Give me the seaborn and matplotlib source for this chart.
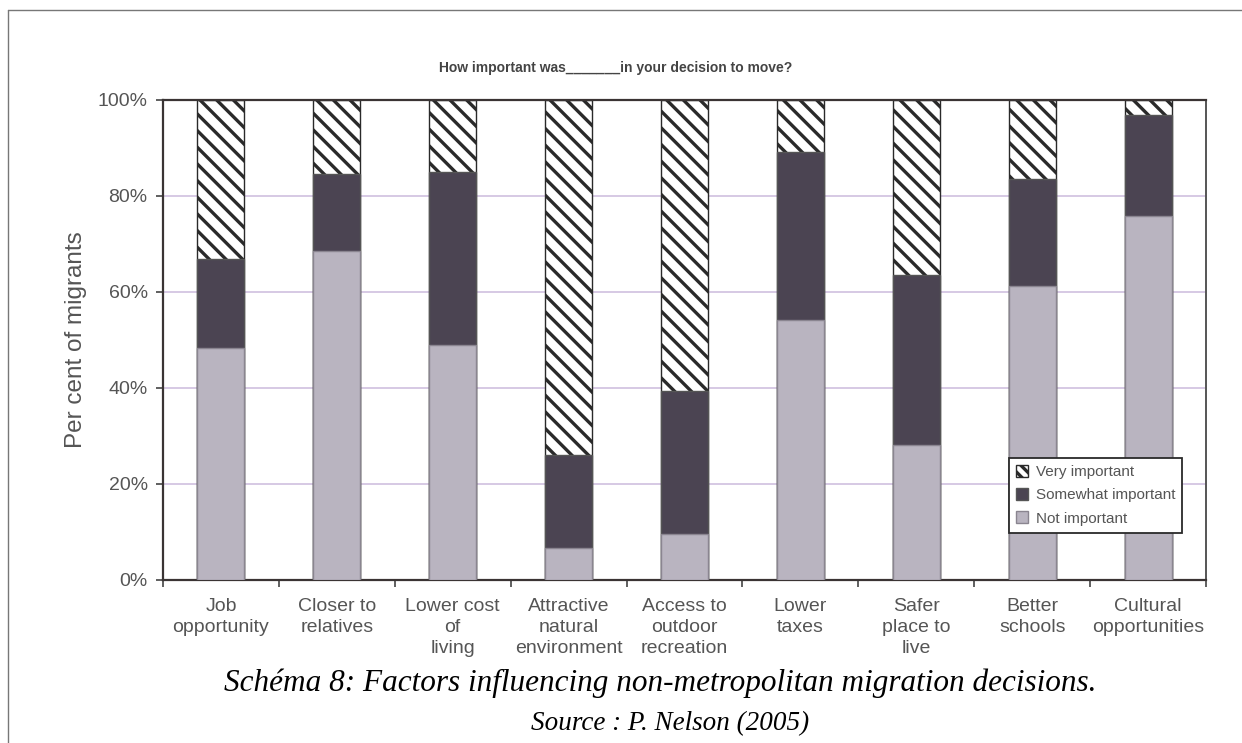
#!/usr/bin/env python3
# Stacked bar chart: factors in non-metropolitan migration decisions
import matplotlib
matplotlib.use("Agg")
import matplotlib.pyplot as plt
import matplotlib.lines as mlines
import matplotlib.patches as mpatches
import seaborn as sns
import pandas as pd
import numpy as np

# Data (per cent of migrants)
factors = [
    "Job\nopportunity",
    "Closer to\nrelatives",
    "Lower cost\nof\nliving",
    "Attractive\nnatural\nenvironment",
    "Access to\noutdoor\nrecreation",
    "Lower\ntaxes",
    "Safer\nplace to\nlive",
    "Better\nschools",
    "Cultural\nopportunities",
]
not_important = [48.4, 68.6, 48.9, 6.7, 9.6, 54.1, 28.2, 61.2, 75.9]
somewhat_important = [18.4, 16.0, 36.1, 19.4, 29.7, 35.0, 35.3, 22.4, 21.0]
very_important = [33.2, 15.4, 15.0, 73.9, 60.7, 10.9, 36.5, 16.4, 3.1]
y_ticks = [0, 20, 40, 60, 80, 100]

# Colours
not_color = "#b9b4c0"
some_color = "#4b4452"
edge_color = "#555555"
text_color = "#555555"


def build_df() -> pd.DataFrame:
    df = pd.DataFrame({
        "factor": factors,
        "not": not_important,
        "some": somewhat_important,
        "very": very_important,
    })
    # cumulative heights for layered drawing
    df["top_some"] = df["not"] + df["some"]
    df["top_very"] = df["top_some"] + df["very"]
    return df


def plot_data(df: pd.DataFrame) -> None:
    sns.set_style("white")
    plt.rcParams["font.family"] = ["Liberation Sans", "DejaVu Sans"]
    plt.rcParams["hatch.linewidth"] = 2.4

    fig = plt.figure(figsize=(12.42, 7.43), dpi=100)
    ax = fig.add_axes([163 / 1242, 1 - 580 / 743, 1043 / 1242, 480 / 743])

    # Grid
    for v in y_ticks[1:-1]:
        ax.axhline(v, color="#cbbbdc", lw=1.1, zorder=0)

    bar_w = 0.405
    # Very important (full stack, hatched)
    sns.barplot(data=df, x="factor", y="top_very", ax=ax, width=bar_w,
                color="white", edgecolor="#2a2a2a", hatch="\\\\",
                linewidth=1.0, saturation=1, errorbar=None, zorder=2)
    # Somewhat important
    sns.barplot(data=df, x="factor", y="top_some", ax=ax, width=bar_w,
                color=some_color, edgecolor=edge_color, linewidth=1.0,
                saturation=1, errorbar=None, zorder=3)
    # Not important
    sns.barplot(data=df, x="factor", y="not", ax=ax, width=bar_w,
                color=not_color, edgecolor="#8a8590", linewidth=1.0,
                saturation=1, errorbar=None, zorder=4)

    n = len(factors)
    ax.set_xlim(-0.5, n - 0.5)
    ax.set_ylim(0, 100)

    # Axis ticks
    ax.set_yticks(y_ticks)
    ax.set_yticklabels([f"{v}%" for v in y_ticks])
    ax.tick_params(axis="y", left=True, length=5, width=1.2, color="#444444",
                   pad=6, labelsize=14, labelcolor=text_color)
    ax.set_xticks(range(n))
    ax.set_xticklabels(factors, linespacing=1.3)
    ax.set_xticks(np.arange(n + 1) - 0.5, minor=True)
    ax.tick_params(axis="x", which="major", length=0, pad=13,
                   labelsize=14, labelcolor=text_color)
    ax.tick_params(axis="x", which="minor", bottom=True, length=5,
                   width=1.2, color="#444444")
    ax.set_xlabel("")
    ax.set_ylabel("Per cent of migrants", fontsize=17.5, color=text_color)
    ax.yaxis.set_label_coords(-76 / 1043, 0.5)

    # Spines
    for side in ["left", "bottom", "top"]:
        ax.spines[side].set_color("#3a3434")
        ax.spines[side].set_linewidth(1.6)
    ax.spines["right"].set_color("#555555")
    ax.spines["right"].set_linewidth(1.4)

    # Legend
    handles = [
        mpatches.Patch(facecolor="white", edgecolor="#2a2a2a", hatch="\\\\\\",
                       label="Very important"),
        mpatches.Patch(facecolor=some_color, edgecolor=edge_color,
                       label="Somewhat important"),
        mpatches.Patch(facecolor=not_color, edgecolor="#8a8590",
                       label="Not important"),
    ]
    leg = ax.legend(handles=handles, loc="lower left",
                    bbox_to_anchor=(0.804, 0.083), fontsize=11,
                    handlelength=0.8, handleheight=0.8, handletextpad=0.5,
                    labelspacing=0.6, borderpad=0.45, fancybox=False,
                    frameon=True, framealpha=1, edgecolor="#2a2a2a",
                    labelcolor=text_color)
    leg.get_frame().set_linewidth(1.3)
    leg.set_zorder(10)

    # Title
    fig.text(616 / 1242, 1 - 68 / 743,
             "How important was_______in your decision to move?",
             ha="center", va="center", fontsize=10, fontweight="bold",
             color="#444444")

    # Caption and source
    fig.text(660 / 1242, 1 - 683 / 743,
             "Schéma 8: Factors influencing non-metropolitan migration decisions.",
             ha="center", va="center", fontsize=22.5, style="italic",
             family=["Liberation Serif", "DejaVu Serif"], color="black")
    fig.text(670 / 1242, 1 - 724 / 743, "Source : P. Nelson (2005)",
             ha="center", va="center", fontsize=19.5, style="italic",
             family=["Liberation Serif", "DejaVu Serif"], color="black")

    # Page border
    fig.add_artist(mlines.Line2D([8 / 1242, 8 / 1242], [0, 1 - 10 / 743],
                                 transform=fig.transFigure, color="#777777", lw=1))
    fig.add_artist(mlines.Line2D([8 / 1242, 1], [1 - 10 / 743, 1 - 10 / 743],
                                 transform=fig.transFigure, color="#777777", lw=1))

    fig.savefig("out.png", dpi=100)


def main():
    df = build_df()
    plot_data(df)


if __name__ == "__main__":
    main()
